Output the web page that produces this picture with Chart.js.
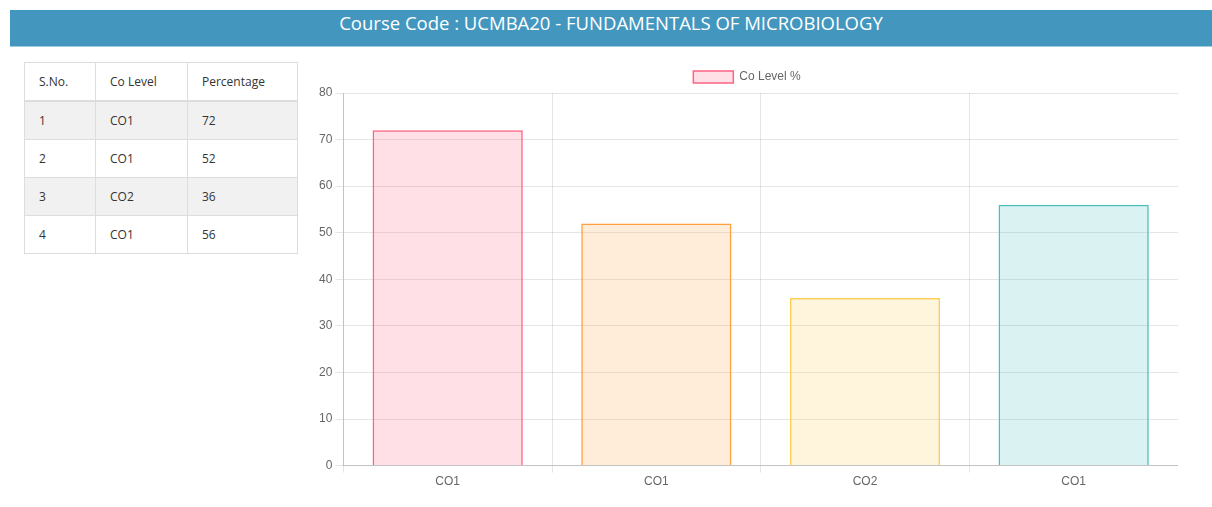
<!DOCTYPE html>
<html>
<head>
<meta charset="utf-8">
<script src="https://cdn.jsdelivr.net/npm/chart.js@4.4.0/dist/chart.umd.min.js"></script>
<style>
  html, body { margin: 0; padding: 0; background: #fff; width: 1212px; height: 507px; overflow: hidden; }
  #hdr { position: absolute; left: 10px; top: 10px; width: 1202px; height: 37px; background: #4397bf;
         color: #fff; font-family: "Open Sans", sans-serif; font-size: 18.5px; line-height: 25px; text-align: center;
         border-bottom: 1px solid #9fcde0; box-sizing: border-box; }
  table { position: absolute; left: 24px; top: 62px; border-collapse: collapse; font-family: "Open Sans", sans-serif;
          font-size: 12px; color: #333; }
  td, th { border: 1px solid #ddd; height: 38.3px; padding: 0 0 0 14px; text-align: left; font-weight: normal; box-sizing: border-box; }
  th { border-bottom: 2px solid #ddd; }
  tbody tr:nth-child(odd) { background: #f1f1f1; }
  #wrap { position: absolute; left: 316px; top: 61px; width: 862px; height: 430px; }
</style>
</head>
<body>
<div id="hdr">Course Code : UCMBA20 - FUNDAMENTALS OF MICROBIOLOGY</div>
<table id="tbl">
  <thead><tr><th style="width:71px">S.No.</th><th style="width:92px">Co Level</th><th style="width:110px">Percentage</th></tr></thead>
  <tbody></tbody>
</table>
<div id="wrap"><canvas id="c"></canvas></div>
<script>
const serialNumbers = [1, 2, 3, 4];
const coLevels = ["CO1", "CO1", "CO2", "CO1"];
const percentages = [72, 52, 36, 56];
const yTicksMax = 80;
const datasetLabel = "Co Level %";

const tbody = document.querySelector('#tbl tbody');
serialNumbers.forEach((s, i) => {
  const tr = document.createElement('tr');
  tr.innerHTML = `<td>${s}</td><td>${coLevels[i]}</td><td>${percentages[i]}</td>`;
  tbody.appendChild(tr);
});

const fills = ['rgba(255, 99, 132, 0.2)', 'rgba(255, 159, 64, 0.2)', 'rgba(255, 205, 86, 0.2)', 'rgba(75, 192, 192, 0.2)'];
const borders = ['rgb(255, 99, 132)', 'rgb(255, 159, 64)', 'rgb(255, 205, 86)', 'rgb(75, 192, 192)'];

Chart.defaults.font.family = "'Liberation Sans', Arial, sans-serif";
Chart.defaults.font.size = 12;
Chart.defaults.color = '#666';

new Chart(document.getElementById('c'), {
  type: 'bar',
  data: {
    labels: coLevels,
    datasets: [{
      label: datasetLabel,
      data: percentages,
      backgroundColor: fills,
      borderColor: borders,
      borderWidth: 1.5
    }]
  },
  options: {
    responsive: true,
    maintainAspectRatio: false,
    animation: false,
    layout: { padding: 0 },
    plugins: {
      legend: { labels: { boxWidth: 40, boxHeight: 12 } },
      tooltip: { enabled: false }
    },
    datasets: { bar: { categoryPercentage: 0.8, barPercentage: 0.9 } },
    scales: {
      x: {
        grid: { color: 'rgba(0,0,0,0.1)', offset: true, tickLength: 7 },
        border: { color: 'rgba(0,0,0,0.15)' },
        ticks: { color: '#666', padding: 2 }
      },
      y: {
        min: 0, max: yTicksMax,
        ticks: { stepSize: 10, color: '#666', padding: 3 },
        grid: { color: 'rgba(0,0,0,0.1)', tickLength: 8 },
        border: { color: 'rgba(0,0,0,0.15)' }
      }
    }
  }
});
</script>
</body>
</html>
